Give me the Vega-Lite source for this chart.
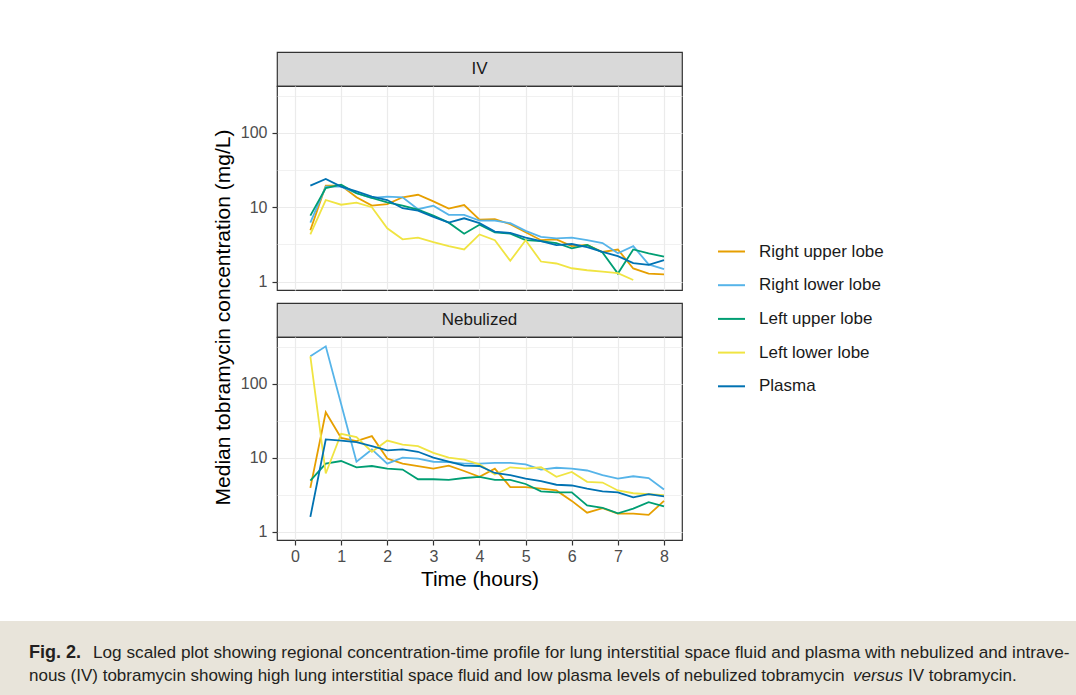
{
"$schema": "https://vega.github.io/schema/vega-lite/v6.json",
"background": "white",
"padding": {"left": 0, "top": 51, "right": 0, "bottom": 0},
"config": {"font": "Liberation Sans", "view": {"stroke": null}},
"datasets": {
"cap": [
{"line": 1, "part": "fig", "text": "Fig. 2."},
{"line": 1, "part": "l1", "text": "Log scaled plot showing regional concentration-time profile for lung interstitial space fluid and plasma with nebulized and intrave-"},
{"line": 2, "part": "l2a", "text": "nous (IV) tobramycin showing high lung interstitial space fluid and low plasma levels of nebulized tobramycin"},
{"line": 2, "part": "l2b", "text": "versus"},
{"line": 2, "part": "l2c", "text": "IV tobramycin."}
],
"tob": [
{"p":"IV","s":"Right upper lobe","t":0.333,"v":4.9},{"p":"IV","s":"Right upper lobe","t":0.667,"v":19.5},{"p":"IV","s":"Right upper lobe","t":1,"v":19.5},{"p":"IV","s":"Right upper lobe","t":1.333,"v":13.6},{"p":"IV","s":"Right upper lobe","t":1.667,"v":10.5},{"p":"IV","s":"Right upper lobe","t":2,"v":11},{"p":"IV","s":"Right upper lobe","t":2.333,"v":13.6},{"p":"IV","s":"Right upper lobe","t":2.667,"v":14.7},{"p":"IV","s":"Right upper lobe","t":3,"v":12},{"p":"IV","s":"Right upper lobe","t":3.333,"v":9.6},{"p":"IV","s":"Right upper lobe","t":3.667,"v":10.7},{"p":"IV","s":"Right upper lobe","t":4,"v":6.8},{"p":"IV","s":"Right upper lobe","t":4.333,"v":6.9},{"p":"IV","s":"Right upper lobe","t":4.667,"v":5.9},{"p":"IV","s":"Right upper lobe","t":5,"v":4.6},{"p":"IV","s":"Right upper lobe","t":5.333,"v":3.6},{"p":"IV","s":"Right upper lobe","t":5.667,"v":3.7},{"p":"IV","s":"Right upper lobe","t":6,"v":3.0},{"p":"IV","s":"Right upper lobe","t":6.333,"v":3.1},{"p":"IV","s":"Right upper lobe","t":6.667,"v":2.5},{"p":"IV","s":"Right upper lobe","t":7,"v":2.7},{"p":"IV","s":"Right upper lobe","t":7.333,"v":1.5},{"p":"IV","s":"Right upper lobe","t":7.667,"v":1.28},{"p":"IV","s":"Right upper lobe","t":8,"v":1.25},
{"p":"IV","s":"Right lower lobe","t":0.333,"v":6.2},{"p":"IV","s":"Right lower lobe","t":0.667,"v":18.9},{"p":"IV","s":"Right lower lobe","t":1,"v":18.9},{"p":"IV","s":"Right lower lobe","t":1.333,"v":15.4},{"p":"IV","s":"Right lower lobe","t":1.667,"v":13.3},{"p":"IV","s":"Right lower lobe","t":2,"v":13.9},{"p":"IV","s":"Right lower lobe","t":2.333,"v":13.6},{"p":"IV","s":"Right lower lobe","t":2.667,"v":9.4},{"p":"IV","s":"Right lower lobe","t":3,"v":10.5},{"p":"IV","s":"Right lower lobe","t":3.333,"v":7.9},{"p":"IV","s":"Right lower lobe","t":3.667,"v":7.9},{"p":"IV","s":"Right lower lobe","t":4,"v":6.6},{"p":"IV","s":"Right lower lobe","t":4.333,"v":6.6},{"p":"IV","s":"Right lower lobe","t":4.667,"v":6.1},{"p":"IV","s":"Right lower lobe","t":5,"v":4.8},{"p":"IV","s":"Right lower lobe","t":5.333,"v":4.0},{"p":"IV","s":"Right lower lobe","t":5.667,"v":3.8},{"p":"IV","s":"Right lower lobe","t":6,"v":3.9},{"p":"IV","s":"Right lower lobe","t":6.333,"v":3.6},{"p":"IV","s":"Right lower lobe","t":6.667,"v":3.3},{"p":"IV","s":"Right lower lobe","t":7,"v":2.4},{"p":"IV","s":"Right lower lobe","t":7.333,"v":3.0},{"p":"IV","s":"Right lower lobe","t":7.667,"v":1.7},{"p":"IV","s":"Right lower lobe","t":8,"v":1.47},
{"p":"IV","s":"Left upper lobe","t":0.333,"v":7.7},{"p":"IV","s":"Left upper lobe","t":0.667,"v":18.1},{"p":"IV","s":"Left upper lobe","t":1,"v":20.1},{"p":"IV","s":"Left upper lobe","t":1.333,"v":15.4},{"p":"IV","s":"Left upper lobe","t":1.667,"v":13.3},{"p":"IV","s":"Left upper lobe","t":2,"v":11.6},{"p":"IV","s":"Left upper lobe","t":2.333,"v":10.5},{"p":"IV","s":"Left upper lobe","t":2.667,"v":9.3},{"p":"IV","s":"Left upper lobe","t":3,"v":7.7},{"p":"IV","s":"Left upper lobe","t":3.333,"v":6.2},{"p":"IV","s":"Left upper lobe","t":3.667,"v":4.4},{"p":"IV","s":"Left upper lobe","t":4,"v":5.8},{"p":"IV","s":"Left upper lobe","t":4.333,"v":4.6},{"p":"IV","s":"Left upper lobe","t":4.667,"v":4.4},{"p":"IV","s":"Left upper lobe","t":5,"v":3.6},{"p":"IV","s":"Left upper lobe","t":5.333,"v":3.5},{"p":"IV","s":"Left upper lobe","t":5.667,"v":3.3},{"p":"IV","s":"Left upper lobe","t":6,"v":2.8},{"p":"IV","s":"Left upper lobe","t":6.333,"v":3.1},{"p":"IV","s":"Left upper lobe","t":6.667,"v":2.46},{"p":"IV","s":"Left upper lobe","t":7,"v":1.28},{"p":"IV","s":"Left upper lobe","t":7.333,"v":2.7},{"p":"IV","s":"Left upper lobe","t":7.667,"v":2.4},{"p":"IV","s":"Left upper lobe","t":8,"v":2.17},
{"p":"IV","s":"Left lower lobe","t":0.333,"v":4.3},{"p":"IV","s":"Left lower lobe","t":0.667,"v":12.5},{"p":"IV","s":"Left lower lobe","t":1,"v":10.8},{"p":"IV","s":"Left lower lobe","t":1.333,"v":11.5},{"p":"IV","s":"Left lower lobe","t":1.667,"v":10},{"p":"IV","s":"Left lower lobe","t":2,"v":5.2},{"p":"IV","s":"Left lower lobe","t":2.333,"v":3.7},{"p":"IV","s":"Left lower lobe","t":2.667,"v":3.9},{"p":"IV","s":"Left lower lobe","t":3,"v":3.4},{"p":"IV","s":"Left lower lobe","t":3.333,"v":3.0},{"p":"IV","s":"Left lower lobe","t":3.667,"v":2.7},{"p":"IV","s":"Left lower lobe","t":4,"v":4.3},{"p":"IV","s":"Left lower lobe","t":4.333,"v":3.6},{"p":"IV","s":"Left lower lobe","t":4.667,"v":1.9},{"p":"IV","s":"Left lower lobe","t":5,"v":3.6},{"p":"IV","s":"Left lower lobe","t":5.333,"v":1.86},{"p":"IV","s":"Left lower lobe","t":5.667,"v":1.75},{"p":"IV","s":"Left lower lobe","t":6,"v":1.51},{"p":"IV","s":"Left lower lobe","t":6.333,"v":1.42},{"p":"IV","s":"Left lower lobe","t":6.667,"v":1.36},{"p":"IV","s":"Left lower lobe","t":7,"v":1.3},{"p":"IV","s":"Left lower lobe","t":7.333,"v":1.05},
{"p":"IV","s":"Plasma","t":0.333,"v":19.5},{"p":"IV","s":"Plasma","t":0.667,"v":24},{"p":"IV","s":"Plasma","t":1,"v":18.9},{"p":"IV","s":"Plasma","t":1.333,"v":16.3},{"p":"IV","s":"Plasma","t":1.667,"v":13.9},{"p":"IV","s":"Plasma","t":2,"v":12.5},{"p":"IV","s":"Plasma","t":2.333,"v":9.7},{"p":"IV","s":"Plasma","t":2.667,"v":9.0},{"p":"IV","s":"Plasma","t":3,"v":7.4},{"p":"IV","s":"Plasma","t":3.333,"v":6.2},{"p":"IV","s":"Plasma","t":3.667,"v":7.1},{"p":"IV","s":"Plasma","t":4,"v":6.1},{"p":"IV","s":"Plasma","t":4.333,"v":4.7},{"p":"IV","s":"Plasma","t":4.667,"v":4.5},{"p":"IV","s":"Plasma","t":5,"v":3.9},{"p":"IV","s":"Plasma","t":5.333,"v":3.5},{"p":"IV","s":"Plasma","t":5.667,"v":3.1},{"p":"IV","s":"Plasma","t":6,"v":3.2},{"p":"IV","s":"Plasma","t":6.333,"v":2.9},{"p":"IV","s":"Plasma","t":6.667,"v":2.5},{"p":"IV","s":"Plasma","t":7,"v":2.2},{"p":"IV","s":"Plasma","t":7.333,"v":1.77},{"p":"IV","s":"Plasma","t":7.667,"v":1.68},{"p":"IV","s":"Plasma","t":8,"v":1.94},
{"p":"Neb","s":"Right upper lobe","t":0.333,"v":3.9},{"p":"Neb","s":"Right upper lobe","t":0.667,"v":41},{"p":"Neb","s":"Right upper lobe","t":1,"v":18.5},{"p":"Neb","s":"Right upper lobe","t":1.333,"v":16.7},{"p":"Neb","s":"Right upper lobe","t":1.667,"v":19.5},{"p":"Neb","s":"Right upper lobe","t":2,"v":9.7},{"p":"Neb","s":"Right upper lobe","t":2.333,"v":8.3},{"p":"Neb","s":"Right upper lobe","t":2.667,"v":7.7},{"p":"Neb","s":"Right upper lobe","t":3,"v":7.1},{"p":"Neb","s":"Right upper lobe","t":3.333,"v":7.8},{"p":"Neb","s":"Right upper lobe","t":3.667,"v":6.6},{"p":"Neb","s":"Right upper lobe","t":4,"v":5.5},{"p":"Neb","s":"Right upper lobe","t":4.333,"v":7.1},{"p":"Neb","s":"Right upper lobe","t":4.667,"v":4.0},{"p":"Neb","s":"Right upper lobe","t":5,"v":4.0},{"p":"Neb","s":"Right upper lobe","t":5.333,"v":3.8},{"p":"Neb","s":"Right upper lobe","t":5.667,"v":3.6},{"p":"Neb","s":"Right upper lobe","t":6,"v":2.6},{"p":"Neb","s":"Right upper lobe","t":6.333,"v":1.8},{"p":"Neb","s":"Right upper lobe","t":6.667,"v":2.07},{"p":"Neb","s":"Right upper lobe","t":7,"v":1.75},{"p":"Neb","s":"Right upper lobe","t":7.333,"v":1.75},{"p":"Neb","s":"Right upper lobe","t":7.667,"v":1.68},{"p":"Neb","s":"Right upper lobe","t":8,"v":2.6},
{"p":"Neb","s":"Right lower lobe","t":0.333,"v":234},{"p":"Neb","s":"Right lower lobe","t":0.667,"v":319},{"p":"Neb","s":"Right lower lobe","t":1,"v":53},{"p":"Neb","s":"Right lower lobe","t":1.333,"v":8.8},{"p":"Neb","s":"Right lower lobe","t":1.667,"v":12.9},{"p":"Neb","s":"Right lower lobe","t":2,"v":8.3},{"p":"Neb","s":"Right lower lobe","t":2.333,"v":10},{"p":"Neb","s":"Right lower lobe","t":2.667,"v":9.7},{"p":"Neb","s":"Right lower lobe","t":3,"v":8.8},{"p":"Neb","s":"Right lower lobe","t":3.333,"v":8.7},{"p":"Neb","s":"Right lower lobe","t":3.667,"v":8.3},{"p":"Neb","s":"Right lower lobe","t":4,"v":8.3},{"p":"Neb","s":"Right lower lobe","t":4.333,"v":8.5},{"p":"Neb","s":"Right lower lobe","t":4.667,"v":8.5},{"p":"Neb","s":"Right lower lobe","t":5,"v":8.1},{"p":"Neb","s":"Right lower lobe","t":5.333,"v":6.9},{"p":"Neb","s":"Right lower lobe","t":5.667,"v":7.3},{"p":"Neb","s":"Right lower lobe","t":6,"v":7.1},{"p":"Neb","s":"Right lower lobe","t":6.333,"v":6.7},{"p":"Neb","s":"Right lower lobe","t":6.667,"v":5.8},{"p":"Neb","s":"Right lower lobe","t":7,"v":5.2},{"p":"Neb","s":"Right lower lobe","t":7.333,"v":5.6},{"p":"Neb","s":"Right lower lobe","t":7.667,"v":5.3},{"p":"Neb","s":"Right lower lobe","t":8,"v":3.7},
{"p":"Neb","s":"Left upper lobe","t":0.333,"v":4.9},{"p":"Neb","s":"Left upper lobe","t":0.667,"v":8.3},{"p":"Neb","s":"Left upper lobe","t":1,"v":9.0},{"p":"Neb","s":"Left upper lobe","t":1.333,"v":7.4},{"p":"Neb","s":"Left upper lobe","t":1.667,"v":7.7},{"p":"Neb","s":"Left upper lobe","t":2,"v":7.1},{"p":"Neb","s":"Left upper lobe","t":2.333,"v":6.9},{"p":"Neb","s":"Left upper lobe","t":2.667,"v":5.1},{"p":"Neb","s":"Left upper lobe","t":3,"v":5.1},{"p":"Neb","s":"Left upper lobe","t":3.333,"v":5.0},{"p":"Neb","s":"Left upper lobe","t":3.667,"v":5.3},{"p":"Neb","s":"Left upper lobe","t":4,"v":5.5},{"p":"Neb","s":"Left upper lobe","t":4.333,"v":5.0},{"p":"Neb","s":"Left upper lobe","t":4.667,"v":5.0},{"p":"Neb","s":"Left upper lobe","t":5,"v":4.4},{"p":"Neb","s":"Left upper lobe","t":5.333,"v":3.5},{"p":"Neb","s":"Left upper lobe","t":5.667,"v":3.4},{"p":"Neb","s":"Left upper lobe","t":6,"v":3.4},{"p":"Neb","s":"Left upper lobe","t":6.333,"v":2.26},{"p":"Neb","s":"Left upper lobe","t":6.667,"v":2.1},{"p":"Neb","s":"Left upper lobe","t":7,"v":1.77},{"p":"Neb","s":"Left upper lobe","t":7.333,"v":2.04},{"p":"Neb","s":"Left upper lobe","t":7.667,"v":2.5},{"p":"Neb","s":"Left upper lobe","t":8,"v":2.2},
{"p":"Neb","s":"Left lower lobe","t":0.333,"v":234},{"p":"Neb","s":"Left lower lobe","t":0.667,"v":6.1},{"p":"Neb","s":"Left lower lobe","t":1,"v":21},{"p":"Neb","s":"Left lower lobe","t":1.333,"v":18.9},{"p":"Neb","s":"Left lower lobe","t":1.667,"v":12},{"p":"Neb","s":"Left lower lobe","t":2,"v":17},{"p":"Neb","s":"Left lower lobe","t":2.333,"v":15},{"p":"Neb","s":"Left lower lobe","t":2.667,"v":14.3},{"p":"Neb","s":"Left lower lobe","t":3,"v":11.6},{"p":"Neb","s":"Left lower lobe","t":3.333,"v":10},{"p":"Neb","s":"Left lower lobe","t":3.667,"v":9.4},{"p":"Neb","s":"Left lower lobe","t":4,"v":8.1},{"p":"Neb","s":"Left lower lobe","t":4.333,"v":5.9},{"p":"Neb","s":"Left lower lobe","t":4.667,"v":7.4},{"p":"Neb","s":"Left lower lobe","t":5,"v":7.1},{"p":"Neb","s":"Left lower lobe","t":5.333,"v":7.4},{"p":"Neb","s":"Left lower lobe","t":5.667,"v":5.5},{"p":"Neb","s":"Left lower lobe","t":6,"v":6.4},{"p":"Neb","s":"Left lower lobe","t":6.333,"v":4.7},{"p":"Neb","s":"Left lower lobe","t":6.667,"v":4.6},{"p":"Neb","s":"Left lower lobe","t":7,"v":3.6},{"p":"Neb","s":"Left lower lobe","t":7.333,"v":3.3},{"p":"Neb","s":"Left lower lobe","t":7.667,"v":3.2},{"p":"Neb","s":"Left lower lobe","t":8,"v":3.1},
{"p":"Neb","s":"Plasma","t":0.333,"v":1.58},{"p":"Neb","s":"Plasma","t":0.667,"v":17.6},{"p":"Neb","s":"Plasma","t":1,"v":17},{"p":"Neb","s":"Plasma","t":1.333,"v":16.2},{"p":"Neb","s":"Plasma","t":1.667,"v":14.3},{"p":"Neb","s":"Plasma","t":2,"v":12.5},{"p":"Neb","s":"Plasma","t":2.333,"v":12.9},{"p":"Neb","s":"Plasma","t":2.667,"v":12},{"p":"Neb","s":"Plasma","t":3,"v":10},{"p":"Neb","s":"Plasma","t":3.333,"v":8.8},{"p":"Neb","s":"Plasma","t":3.667,"v":7.8},{"p":"Neb","s":"Plasma","t":4,"v":7.7},{"p":"Neb","s":"Plasma","t":4.333,"v":6.2},{"p":"Neb","s":"Plasma","t":4.667,"v":5.8},{"p":"Neb","s":"Plasma","t":5,"v":5.2},{"p":"Neb","s":"Plasma","t":5.333,"v":4.8},{"p":"Neb","s":"Plasma","t":5.667,"v":4.3},{"p":"Neb","s":"Plasma","t":6,"v":4.2},{"p":"Neb","s":"Plasma","t":6.333,"v":3.8},{"p":"Neb","s":"Plasma","t":6.667,"v":3.5},{"p":"Neb","s":"Plasma","t":7,"v":3.4},{"p":"Neb","s":"Plasma","t":7.333,"v":2.9},{"p":"Neb","s":"Plasma","t":7.667,"v":3.2},{"p":"Neb","s":"Plasma","t":8,"v":3.0}
]
},
"columns": 2,
"spacing": 0,
"bounds": "flush",
"concat": [
{"width": 1, "height": 34, "data": {"values": [{}]}, "mark": {"type": "text", "text": ""}, "encoding": {}},
{"width": 405, "height": 34, "data": {"values": [{"panel": "IV"}]},
"view": {"fill": "#d9d9d9", "stroke": "#333333", "strokeWidth": 1.2},
"mark": {"type": "text", "fontSize": 17, "color": "#1a1a1a", "baseline": "middle"},
"encoding": {"text": {"field": "panel"}, "x": {"field": "panel", "type": "nominal", "axis": null}, "y": {"field": "panel", "type": "nominal", "axis": null}}},
{"width": 1, "height": 204, "data": {"values": [{}]}, "mark": {"type": "text", "text": ""}, "encoding": {}},
{"width": 405, "height": 204, "data": {"name": "tob"}, "transform": [{"filter": "datum.p === 'IV'"}],
"view": {"fill": "white", "stroke": "#333333", "strokeWidth": 1.2},
"mark": {"type": "line", "strokeWidth": 1.8, "clip": true},
"encoding": {
"x": {"field": "t", "type": "quantitative", "scale": {"domain": [-0.39, 8.39], "nice": false, "zero": false},
"axis": {"values": [0,1,2,3,4,5,6,7,8], "labels": false, "ticks": false, "domain": false, "title": null, "grid": true, "gridColor": "#ebebeb", "gridWidth": 1.2}},
"y": {"field": "v", "type": "quantitative", "scale": {"type": "log", "domain": [0.77, 427], "nice": false},
"axis": {"values": [1, 3.1623, 10, 31.623, 100, 316.23], "labelExpr": "datum.value == 1 ? '1' : datum.value == 10 ? '10' : datum.value == 100 ? '100' : ''",
"labelOverlap": false, "labelFlush": false, "domain": false, "tickSize": 5, "tickColor": "#333333", "tickWidth": 1.2,
"tickOpacity": {"condition": {"test": "datum.value == 1 || datum.value == 10 || datum.value == 100", "value": 1}, "value": 0},
"labelColor": "#4d4d4d", "labelFontSize": 16, "labelPadding": 5,
"grid": true, "gridColor": "#ebebeb",
"gridWidth": {"condition": {"test": "datum.value == 1 || datum.value == 10 || datum.value == 100", "value": 1.2}, "value": 0.7},
"title": "Median tobramycin concentration (mg/L)", "titleFontSize": 21, "titleFontWeight": "normal", "titleColor": "#000000", "titlePadding": 7, "titleY": 231}},
"color": {"field": "s", "type": "nominal",
"scale": {"domain": ["Right upper lobe", "Right lower lobe", "Left upper lobe", "Left lower lobe", "Plasma"], "range": ["#E69F00", "#56B4E9", "#009E73", "#F0E442", "#0072B2"]},
"legend": {"orient": "none", "legendX": 717, "legendY": 185, "title": null, "symbolType": "stroke", "symbolSize": 729, "symbolStrokeWidth": 2, "labelFontSize": 17, "labelColor": "#1a1a1a", "labelOffset": 13, "rowPadding": 10.7, "padding": 0}}
}},
{"width": 1, "height": 13, "data": {"values": [{}]}, "mark": {"type": "text", "text": ""}, "encoding": {}},
{"width": 1, "height": 13, "data": {"values": [{}]}, "mark": {"type": "text", "text": ""}, "encoding": {}},
{"width": 1, "height": 34, "data": {"values": [{}]}, "mark": {"type": "text", "text": ""}, "encoding": {}},
{"width": 405, "height": 34, "data": {"values": [{"panel": "Nebulized"}]},
"view": {"fill": "#d9d9d9", "stroke": "#333333", "strokeWidth": 1.2},
"mark": {"type": "text", "fontSize": 17, "color": "#1a1a1a", "baseline": "middle"},
"encoding": {"text": {"field": "panel"}, "x": {"field": "panel", "type": "nominal", "axis": null}, "y": {"field": "panel", "type": "nominal", "axis": null}}},
{"width": 1, "height": 203, "data": {"values": [{}]}, "mark": {"type": "text", "text": ""}, "encoding": {}},
{"width": 405, "height": 203, "data": {"name": "tob"}, "transform": [{"filter": "datum.p === 'Neb'"}],
"view": {"fill": "white", "stroke": "#333333", "strokeWidth": 1.2},
"mark": {"type": "line", "strokeWidth": 1.8, "clip": true},
"encoding": {
"x": {"field": "t", "type": "quantitative", "scale": {"domain": [-0.39, 8.39], "nice": false, "zero": false},
"axis": {"values": [0,1,2,3,4,5,6,7,8], "format": "d", "labelFontSize": 16, "labelColor": "#4d4d4d", "tickSize": 5, "tickColor": "#333333", "tickWidth": 1.2, "domain": false, "labelPadding": 3,
"grid": true, "gridColor": "#ebebeb", "gridWidth": 1.2,
"title": "Time (hours)", "titleFontSize": 21, "titleFontWeight": "normal", "titleColor": "#000000", "titlePadding": 4}},
"y": {"field": "v", "type": "quantitative", "scale": {"type": "log", "domain": [0.77, 427], "nice": false},
"axis": {"values": [1, 3.1623, 10, 31.623, 100, 316.23], "labelExpr": "datum.value == 1 ? '1' : datum.value == 10 ? '10' : datum.value == 100 ? '100' : ''",
"labelOverlap": false, "labelFlush": false, "domain": false, "tickSize": 5, "tickColor": "#333333", "tickWidth": 1.2,
"tickOpacity": {"condition": {"test": "datum.value == 1 || datum.value == 10 || datum.value == 100", "value": 1}, "value": 0},
"labelColor": "#4d4d4d", "labelFontSize": 16, "labelPadding": 5,
"grid": true, "gridColor": "#ebebeb",
"gridWidth": {"condition": {"test": "datum.value == 1 || datum.value == 10 || datum.value == 100", "value": 1.2}, "value": 0.7},
"title": null}},
"color": {"field": "s", "type": "nominal",
"scale": {"domain": ["Right upper lobe", "Right lower lobe", "Left upper lobe", "Left lower lobe", "Plasma"], "range": ["#E69F00", "#56B4E9", "#009E73", "#F0E442", "#0072B2"]},
"legend": {"orient": "none", "legendX": 717, "legendY": 185, "title": null, "symbolType": "stroke", "symbolSize": 729, "symbolStrokeWidth": 2, "labelFontSize": 17, "labelColor": "#1a1a1a", "labelOffset": 13, "rowPadding": 10.7, "padding": 0}}
}},
{"width": 1, "height": 81, "data": {"values": [{}]}, "mark": {"type": "text", "text": ""}, "encoding": {}},
{"width": 1, "height": 81, "data": {"values": [{}]}, "mark": {"type": "text", "text": ""}, "encoding": {}},
{"width": 277, "height": 75, "data": {"values": [{}]}, "view": {"fill": "#e8e4da", "stroke": null}, "mark": {"type": "text", "text": ""}, "encoding": {}},
{
"width": 799, "height": 75, "data": {"name": "cap"},
"view": {"fill": "#e8e4da", "stroke": null},
"encoding": {
"text": {"field": "text"},
"y": {"field": "line", "type": "quantitative", "scale": {"domain": [-0.6087, 2.6522], "reverse": true, "nice": false, "zero": false}, "axis": null}
},
"layer": [
{"transform": [{"filter": "datum.part === 'fig'"}], "mark": {"type": "text", "x": -248, "align": "left", "baseline": "alphabetic", "fontWeight": "bold", "fontSize": 18, "color": "#231f20"}},
{"transform": [{"filter": "datum.part === 'l1'"}], "mark": {"type": "text", "x": -184, "align": "left", "baseline": "alphabetic", "fontSize": 17.2, "color": "#231f20"}},
{"transform": [{"filter": "datum.part === 'l2a'"}], "mark": {"type": "text", "x": -248, "align": "left", "baseline": "alphabetic", "fontSize": 17, "color": "#231f20"}},
{"transform": [{"filter": "datum.part === 'l2b'"}], "mark": {"type": "text", "x": 576, "align": "left", "baseline": "alphabetic", "fontStyle": "italic", "fontSize": 17, "color": "#231f20"}},
{"transform": [{"filter": "datum.part === 'l2c'"}], "mark": {"type": "text", "x": 631, "align": "left", "baseline": "alphabetic", "fontSize": 17, "color": "#231f20"}}
]
}
]
}
